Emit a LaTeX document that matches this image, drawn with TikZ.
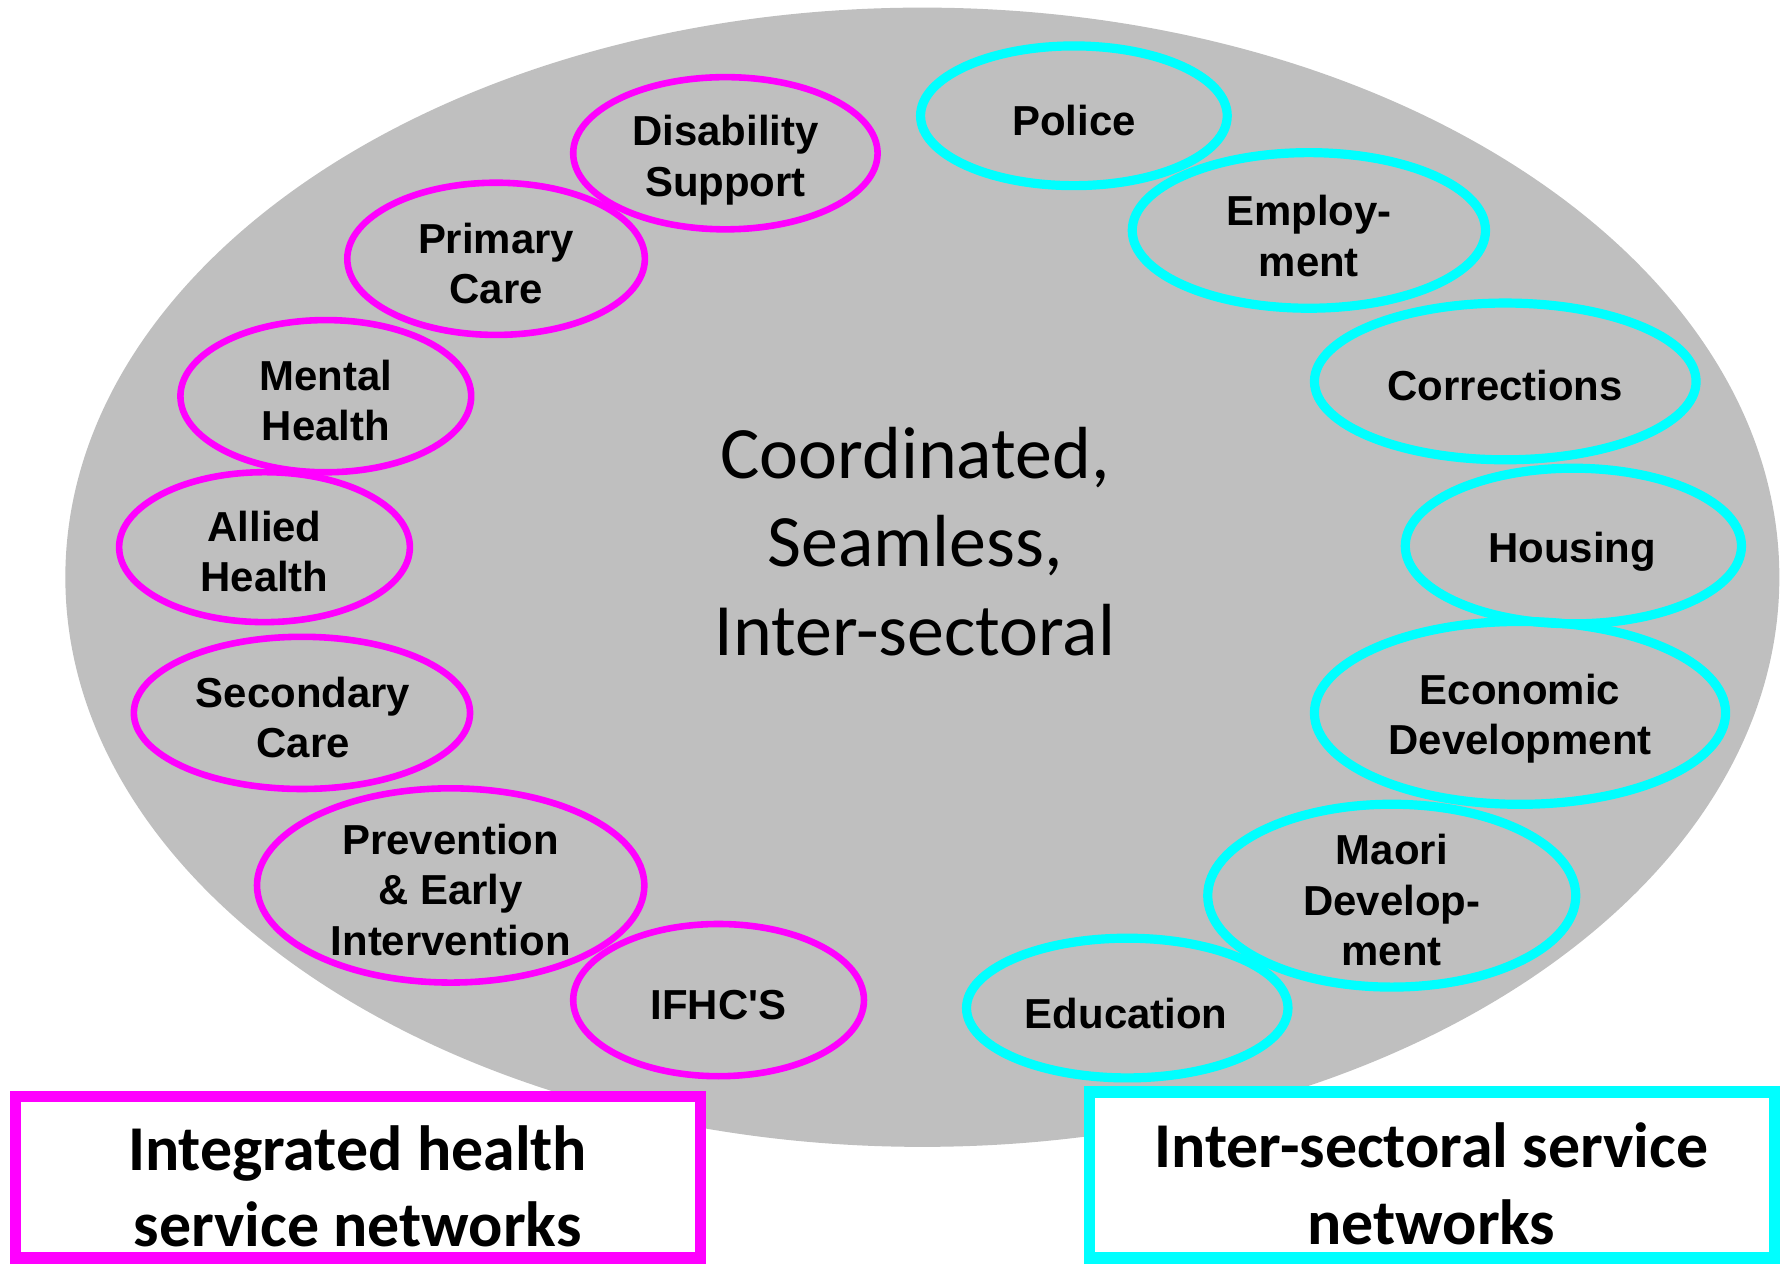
\documentclass[tikz,border=0pt]{standalone}
\usepackage{fontspec}
\newfontfamily\labfont{Liberation Sans}
\newfontfamily\carlfont{Carlito}
\usetikzlibrary{shapes.geometric}
\definecolor{bggray}{RGB}{191,191,191}
\definecolor{mag}{RGB}{255,0,255}
\definecolor{cyn}{RGB}{0,255,255}
\begin{document}
\begin{tikzpicture}[x=0.01cm,y=-0.01cm,
  hubstyle/.style={ellipse, fill=bggray, inner sep=0pt, minimum width=15.09cm, minimum height=10.03cm},
  magell/.style={draw=mag, line width=1.65pt, ellipse, inner sep=0pt},
  cyanell/.style={draw=cyn, line width=2.3pt, ellipse, inner sep=0pt},
  lbl/.style={align=center, font=\labfont\bfseries\fontsize{10.5}{12.6}\selectfont, inner sep=0pt},
  centertext/.style={align=center, font=\carlfont\fontsize{18.5}{22.2}\selectfont, inner sep=0pt},
  legendbox/.style={fill=white, line width=2.85pt, inner sep=0pt, minimum width=6.03cm},
  legendtext/.style={align=center, inner sep=0pt, font=\carlfont\bfseries\fontsize{16}{19.2}\selectfont}
]
\useasboundingbox (0,0) rectangle (1568,1113);
\node[hubstyle] (hub) at (812.5,508.5) {};

% magenta (health) ellipses
\node[magell, minimum width=2.68cm, minimum height=1.34cm] (dis) at (639,135) {};
\node[magell, minimum width=2.62cm, minimum height=1.34cm] (prim) at (437,228) {};
\node[magell, minimum width=2.56cm, minimum height=1.34cm] (ment) at (287,349) {};
\node[magell, minimum width=2.56cm, minimum height=1.32cm] (alli) at (233,482) {};
\node[magell, minimum width=2.96cm, minimum height=1.34cm] (seco) at (266,628) {};
\node[magell, minimum width=3.41cm, minimum height=1.71cm] (prev) at (397,780) {};
\node[magell, minimum width=2.56cm, minimum height=1.34cm] (ifhc) at (633,881) {};

\node[lbl] (tdis) at (639,141) {Disability\\Support};
\node[lbl] (tprim) at (437,232) {Primary\\Care};
\node[lbl] (tment) at (287,353) {Mental\\Health};
\node[lbl] (talli) at (233,486) {Allied\\Health};
\node[lbl] (tseco) at (267,632) {Secondary\\Care};
\node[lbl] (tprev) at (397,784) {Prevention\\\& Early\\Intervention};
\node[lbl] (tifhc) at (633,885) {IFHC'S};

% cyan (inter-sectoral) ellipses
\node[cyanell, minimum width=2.70cm, minimum height=1.23cm] (pol) at (946,102) {};
\node[cyanell, minimum width=3.11cm, minimum height=1.37cm] (emp) at (1153,203) {};
\node[cyanell, minimum width=3.36cm, minimum height=1.38cm] (cor) at (1326,336) {};
\node[cyanell, minimum width=2.96cm, minimum height=1.37cm] (hou) at (1386,481) {};
\node[cyanell, minimum width=3.62cm, minimum height=1.61cm] (eco) at (1339,628) {};
\node[cyanell, minimum width=3.24cm, minimum height=1.61cm] (mao) at (1226,789) {};
\node[cyanell, minimum width=2.83cm, minimum height=1.23cm] (edu) at (993,888) {};

\node[lbl] (tpol) at (946,106) {Police};
\node[lbl] (temp) at (1153,208) {Employ-\\ment};
\node[lbl] (tcor) at (1326,340) {Corrections};
\node[lbl] (thou) at (1385,486) {Housing};
\node[lbl] (teco) at (1339,633) {Economic\\Development};
\node[lbl] (tmao) at (1226,793) {Maori\\Develop-\\ment};
\node[lbl] (tedu) at (992,893) {Education};

% centre text
\node[centertext] (ctr) at (806,477) {Coordinated,\\Seamless,\\Inter-sectoral};

% legend boxes
\node[legendbox, draw=mag, minimum height=1.42cm] (lhealth) at (315.5,1037) {};
\node[legendtext] (thealth) at (315,1045) {Integrated health\\service networks};
\node[legendbox, draw=cyn, minimum height=1.46cm] (linter) at (1261.5,1035) {};
\node[legendtext] (tinter) at (1261,1043) {Inter-sectoral service\\networks};
\end{tikzpicture}
\end{document}
